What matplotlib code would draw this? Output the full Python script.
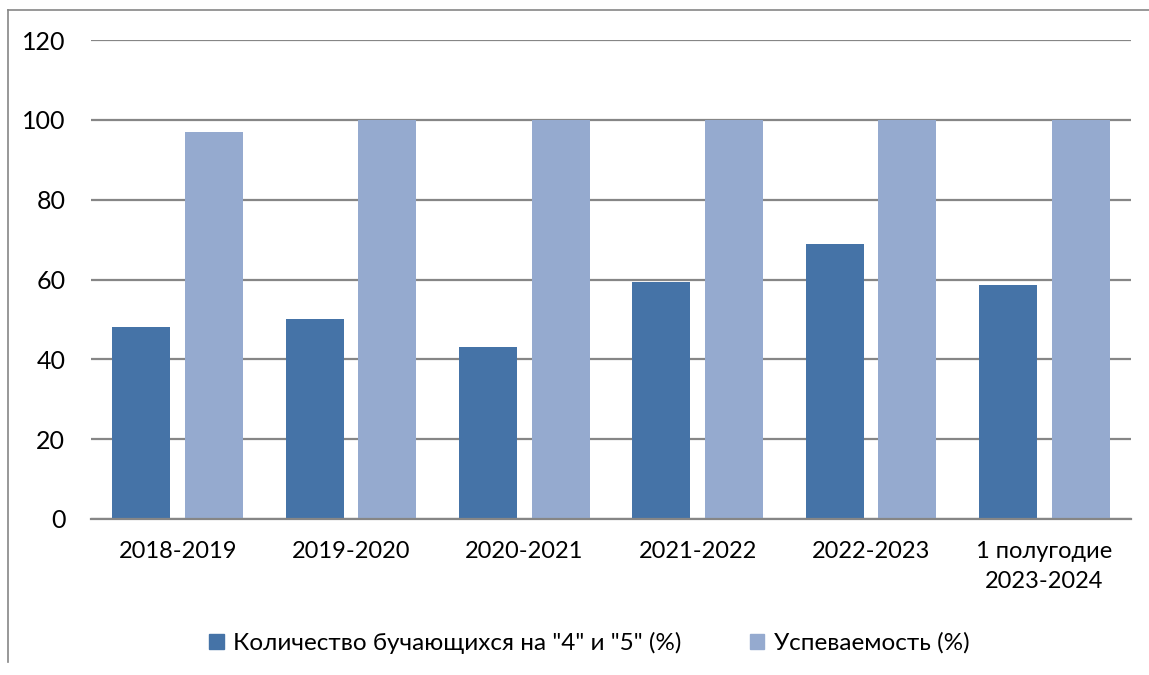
import numpy as np
import matplotlib.pyplot as plt
from matplotlib.lines import Line2D

# data
years = ['2018-2019', '2019-2020', '2020-2021', '2021-2022', '2022-2023', '1 полугодие\n2023-2024']
good_marks = [48, 50, 43, 59.3, 68.9, 58.6]
progress = [97, 100, 100, 100, 100, 100]
series_names = ['Количество бучающихся на "4" и "5" (%)', 'Успеваемость (%)']
colors = ['#4573A7', '#95AACF']

plt.rcParams['font.family'] = ['Lato', 'DejaVu Sans']

fig = plt.figure(figsize=(11.49, 6.75), dpi=100)
ax = fig.add_axes([91/1149, 1-519/675, (1131-91)/1149, (519-40)/675])

x = np.arange(len(years))
w = 0.335
ax.bar(x - 0.21, good_marks, w, color=colors[0], zorder=3)
ax.bar(x + 0.21, progress, w, color=colors[1], zorder=3)

ax.set_xlim(-0.5, len(years) - 0.5)
ax.set_ylim(0, 120)
ax.set_yticks(np.arange(0, 121, 20))
ax.yaxis.grid(True, color='#868686', linewidth=1.6, zorder=0)
ax.set_axisbelow(True)
ax.set_xticks(x)
ax.set_xticklabels(years, fontsize=17, linespacing=1.5)
ax.tick_params(axis='x', length=0, pad=16)
ax.tick_params(axis='y', length=0, pad=18.5, labelsize=18)
for s in ['top', 'right', 'left']:
    ax.spines[s].set_visible(False)
ax.spines['bottom'].set_color('#868686')
ax.spines['bottom'].set_linewidth(1.6)
ax.spines['bottom'].set_zorder(4)

# outer chart frame (only top and left edges are visible in the crop)
fig.add_artist(Line2D([8/1149, 8/1149], [1-662/675, 1-10/675], color='#868686', lw=1.2))
fig.add_artist(Line2D([8/1149, 1], [1-10/675, 1-10/675], color='#868686', lw=1.2))

handles = [plt.Rectangle((0, 0), 1, 1, color=c) for c in colors]
fig.legend(handles, series_names, loc='center', bbox_to_anchor=(0.513, 1-643/675),
           ncol=2, frameon=False, fontsize=17.5, handlelength=0.6, handleheight=0.6,
           handletextpad=0.4, columnspacing=2.8)

fig.savefig('out.png', dpi=100)
